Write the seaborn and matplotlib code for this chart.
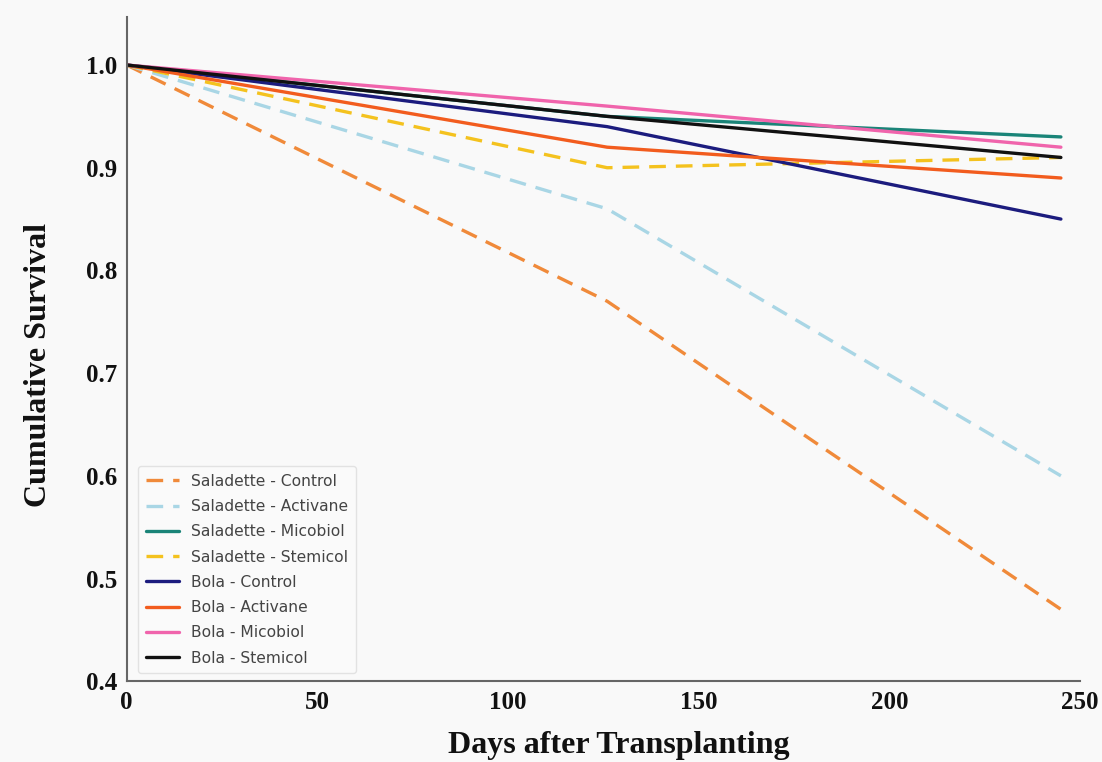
import numpy as np
import pandas as pd
import matplotlib
matplotlib.use("Agg")
import matplotlib.pyplot as plt
import seaborn as sns

# days where survival was assessed
days = [0, 126, 245]

series_names = [
    "Saladette - Control", "Saladette - Activane", "Saladette - Micobiol", "Saladette - Stemicol",
    "Bola - Control", "Bola - Activane", "Bola - Micobiol", "Bola - Stemicol",
]
saladette_control = [1.0, 0.77, 0.47]
saladette_activane = [1.0, 0.86, 0.60]
saladette_micobiol = [1.0, 0.95, 0.93]
saladette_stemicol = [1.0, 0.90, 0.91]
bola_control = [1.0, 0.94, 0.85]
bola_activane = [1.0, 0.92, 0.89]
bola_micobiol = [1.0, 0.96, 0.92]
bola_stemicol = [1.0, 0.95, 0.91]

colors = ["#f08a3a", "#a9d6e5", "#1a8478", "#f4c21e",
          "#1c1c7e", "#f25c1e", "#f064ac", "#111111"]
dashed = [True, True, False, True, False, False, False, False]

values = [saladette_control, saladette_activane, saladette_micobiol, saladette_stemicol,
          bola_control, bola_activane, bola_micobiol, bola_stemicol]

rows = []
for name, vals in zip(series_names, values):
    for d, v in zip(days, vals):
        rows.append({"day": d, "survival": v, "group": name})
df = pd.DataFrame(rows)

sns.set_style("white")
plt.rcParams['font.family'] = ['DejaVu Sans']

fig = plt.figure(figsize=(11.02, 7.62), dpi=100, facecolor="#f9f9f9")
ax = fig.add_axes([0.115, 0.106, 0.865, 0.872])
ax.set_facecolor("#f9f9f9")

palette = dict(zip(series_names, colors))
dash_map = {n: ((5, 3) if d else "") for n, d in zip(series_names, dashed)}

sns.lineplot(data=df, x="day", y="survival", hue="group", style="group",
             hue_order=series_names, style_order=series_names,
             palette=palette, dashes=dash_map, linewidth=2.4, ax=ax)

ax.set_xlim(0, 250)
ax.set_ylim(0.4, 1.047)
ax.set_xticks([0, 50, 100, 150, 200, 250])
ax.set_yticks([0.4, 0.5, 0.6, 0.7, 0.8, 0.9, 1.0])
ax.set_yticklabels([f"{t:.1f}" for t in [0.4, 0.5, 0.6, 0.7, 0.8, 0.9, 1.0]])

serif = ['Liberation Serif', 'DejaVu Serif']
for lab in ax.get_xticklabels() + ax.get_yticklabels():
    lab.set_family(serif)
    lab.set_fontweight("bold")
    lab.set_fontsize(18)
    lab.set_color("#111111")
ax.tick_params(axis="both", length=5, width=1.2, color="#666666", pad=2)

ax.set_xlabel("Days after Transplanting", family=serif, fontweight="bold", fontsize=23,
              color="#111111")
ax.set_ylabel("Cumulative Survival", family=serif, fontweight="bold", fontsize=23,
              color="#111111")
ax.xaxis.set_label_coords(0.516, -0.075)
ax.yaxis.set_label_coords(-0.077, 0.476)

sns.despine(ax=ax)
for side in ["left", "bottom"]:
    ax.spines[side].set_color("#666666")
    ax.spines[side].set_linewidth(1.5)

leg = ax.legend(loc="lower left", fontsize=11.2, frameon=True, handlelength=2.1,
                borderpad=0.5, labelspacing=0.66, bbox_to_anchor=(0.004, 0.0))
leg.get_frame().set_edgecolor("#dddddd")
leg.get_frame().set_facecolor("#fbfbfb")
for t in leg.get_texts():
    t.set_color("#444444")

fig.savefig("out.png", dpi=100, facecolor=fig.get_facecolor())
